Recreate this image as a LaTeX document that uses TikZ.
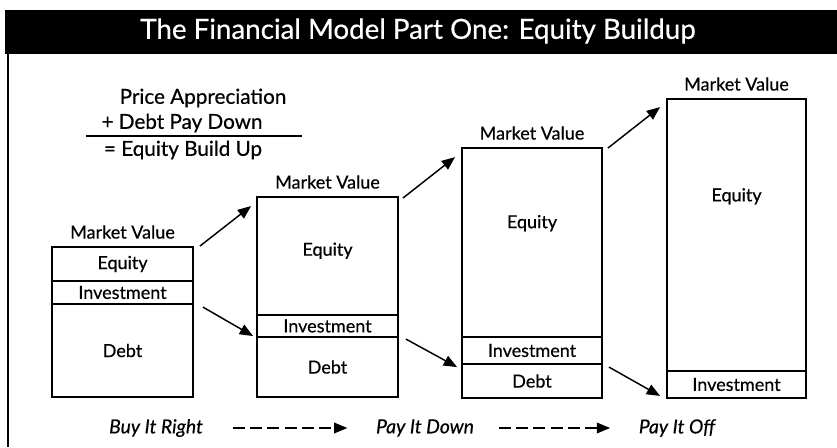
\documentclass[tikz,border=0pt]{standalone}
\usepackage{fontspec}
\setmainfont{Lato}[FakeBold=0.5,
  UprightFeatures={RawFeature={embolden=0.5}},
  ItalicFeatures={RawFeature={embolden=0.5}}]
\usetikzlibrary{arrows.meta,positioning,calc,fit}

\tikzset{
  seg/.style={draw,line width=1.4pt,inner sep=0pt},
  txt/.style={font=\fontsize{13.5}{15}\selectfont,inner sep=0pt},
  mv/.style={font=\fontsize{13.5}{15}\selectfont,label distance=2pt},
  arr/.style={-{Triangle[length=10pt,width=8pt]},line width=1.1pt},
  dasharr/.style={arr,dash pattern=on 9pt off 4pt},
  stage/.style={font=\fontsize{14.5}{17}\selectfont\itshape},
  sum/.style={font=\fontsize{15.5}{18}\selectfont,inner sep=1pt}
}

\begin{document}
\begin{tikzpicture}[x=0.75pt,y=-0.75pt]
\useasboundingbox (0,0) rectangle (837,447);
% title bar and frame
\fill (5,10) rectangle (837,54);
\node[text=white,font=\fontsize{20.8}{24}\selectfont] (title) at (418,31) {The Financial Model Part One: Equity Buildup};
\draw[line width=1.5pt] (8,54) -- (8,447);

% the sum
\node[sum] (pa) at (203,98) {Price Appreciation};
\node[sum] (pd) at (182,123) {+ Debt Pay Down};
\node[sum] (eb) at (183,150) {= Equity Build Up};
\draw[line width=1pt] (86,136) -- (302,136);

% buy it right
\node[seg,fit={(52,247) (193,281)},label={[mv]above:Market Value},
      label={[txt]center:Equity}] (eqA) {};
\node[seg,fit={(52,281) (193,304)},label={[txt]center:Investment}] (invA) {};
\node[seg,fit={(52,304) (193,397)},label={[txt]center:Debt}] (debtA) {};

% pay it down
\node[seg,fit={(257,197) (398,315)},label={[mv]above:Market Value},
      label={[txt,yshift=4pt]center:Equity}] (eqB) {};
\node[seg,fit={(257,315) (398,337)},label={[txt]center:Investment}] (invB) {};
\node[seg,fit={(257,337) (398,397)},label={[txt]center:Debt}] (debtB) {};

\node[seg,fit={(462,148) (602,337)},label={[mv]above:Market Value},
      label={[txt,yshift=14.5pt]center:Equity}] (eqC) {};
\node[seg,fit={(462,337) (602,364)},label={[txt]center:Investment}] (invC) {};
\node[seg,fit={(462,364) (602,398)},label={[txt]center:Debt}] (debtC) {};

% pay it off
\node[seg,fit={(667,99) (806,371)},label={[mv]above:Market Value},
      label={[txt,yshift=29pt]center:Equity}] (eqD) {};
\node[seg,fit={(667,371) (806,398)},label={[txt]center:Investment}] (invD) {};

% growth arrows
\draw[arr] ($(eqA.north east)+(6,0)$) -- ($(eqB.north west)+(-5,10)$);
\draw[arr] ($(eqB.north east)+(4,2)$) -- ($(eqC.north west)+(-6,10)$);
\draw[arr] ($(eqC.north east)+(5,1)$) -- ($(eqD.north west)+(-6,9)$);
\draw[arr] ($(debtA.north east)+(9,4)$) -- ($(debtB.north west)+(-3,0)$);
\draw[arr] ($(debtB.north east)+(7,3)$) -- ($(debtC.north west)+(-4,4)$);
\draw[arr] ($(debtC.north east)+(6,4)$) -- ($(invD.south west)+(-6,-3)$);

% stages
\node[stage] (buy) at (156,428) {Buy It Right};
\node[stage] (down) at (425,428) {Pay It Down};
\node[stage] (off) at (677,428) {Pay It Off};
\draw[dasharr] ($(buy.east)+(25,0)$) -- ($(down.west)+(-24,0)$);
\draw[dasharr] ($(down.east)+(20,0)$) -- ($(off.west)+(-24,0)$);
\end{tikzpicture}
\end{document}
